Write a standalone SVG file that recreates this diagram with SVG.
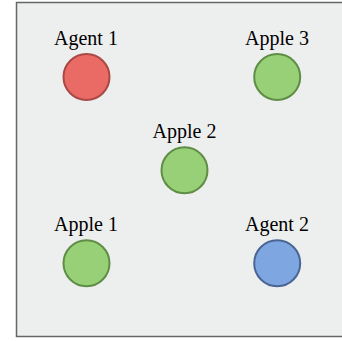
<svg xmlns="http://www.w3.org/2000/svg" width="342" height="341" viewBox="0 0 342 341">
  <style>
    .label { font-family: "Liberation Serif", "Times New Roman", serif; font-size: 20px; fill: #000000; text-anchor: middle; }
    .agent1 { fill: #ea6b66; stroke: #a94845; stroke-width: 2; }
    .agent2 { fill: #7ea6e0; stroke: #4a6594; stroke-width: 2; }
    .apple  { fill: #97d077; stroke: #5f8d45; stroke-width: 2; }
  </style>
  <rect x="0" y="0" width="342" height="341" fill="#ffffff"/>
  <!-- grid world area -->
  <rect x="16.5" y="2.5" width="340" height="334" fill="#edeeee" stroke="#666666" stroke-width="1.5"/>
  <g id="connectors"/>
  <g id="agent1">
    <circle class="agent1" cx="86.5" cy="77" r="23"/>
    <text class="label" x="86" y="45">Agent 1</text>
  </g>
  <g id="apple3">
    <circle class="apple" cx="277.2" cy="77" r="23"/>
    <text class="label" x="277" y="45">Apple 3</text>
  </g>
  <g id="apple2">
    <circle class="apple" cx="184.5" cy="170.3" r="23"/>
    <text class="label" x="184.5" y="138.3">Apple 2</text>
  </g>
  <g id="apple1">
    <circle class="apple" cx="86.5" cy="263.3" r="23"/>
    <text class="label" x="86" y="231">Apple 1</text>
  </g>
  <g id="agent2">
    <circle class="agent2" cx="277.2" cy="263.3" r="23"/>
    <text class="label" x="277" y="231">Agent 2</text>
  </g>
</svg>
